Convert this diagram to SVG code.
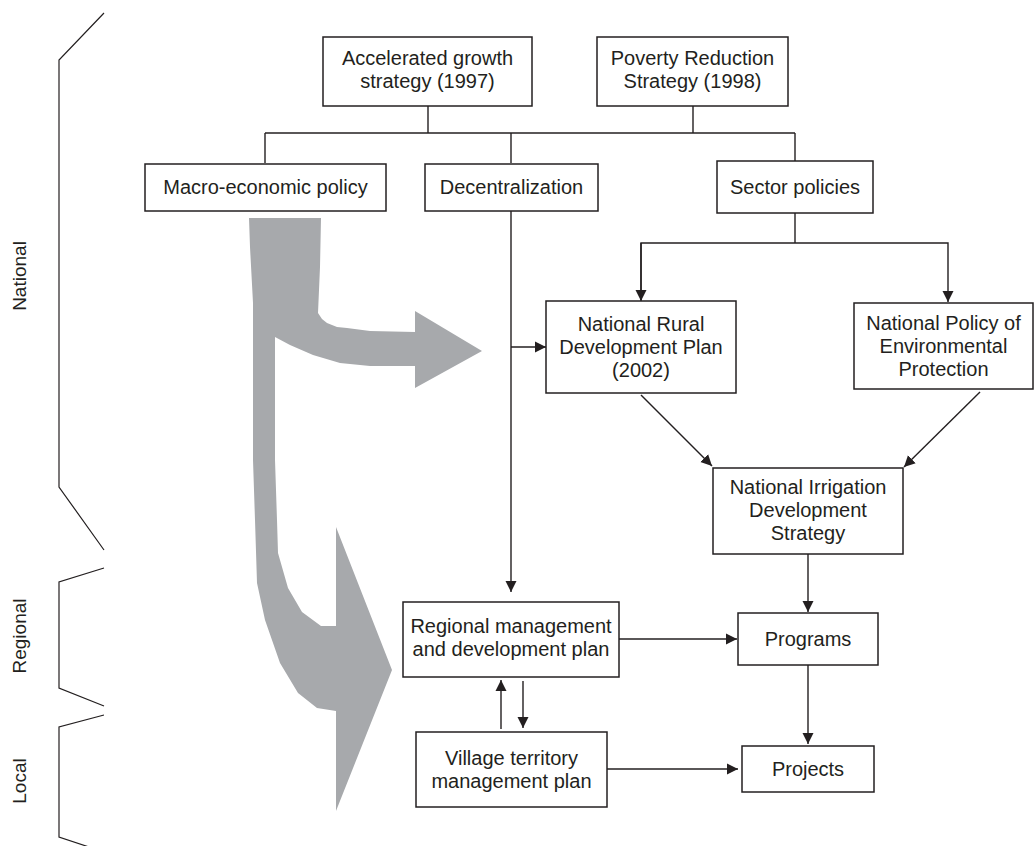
<svg xmlns="http://www.w3.org/2000/svg" width="1034" height="846" viewBox="0 0 1034 846">
<style>
.box{fill:#fff;stroke:#231f20;stroke-width:1.5}
.t{font-family:"Liberation Sans",Arial,sans-serif;font-size:20px;fill:#231f20;text-anchor:middle}
.lv{font-family:"Liberation Sans",Arial,sans-serif;font-size:19px;fill:#231f20;text-anchor:middle}
.ln{fill:none;stroke:#231f20;stroke-width:1.4}
.br{fill:none;stroke:#231f20;stroke-width:1.2}
.grey{fill:#a7a9ac}
</style>
<defs>
<marker id="ah" markerUnits="userSpaceOnUse" markerWidth="12" markerHeight="12" refX="11" refY="6" orient="auto">
<path d="M0,0.5 L11,6 L0,11.5 z" fill="#231f20"/>
</marker>
</defs>
<rect width="1034" height="846" fill="#fff"/>

<g id="levels">
<polyline class="br" points="104,13 59,60 59,487 104,550"/>
<polyline class="br" points="104,568 59,582 59,688 104,706"/>
<polyline class="br" points="104,715 59,727 59,837 104,852"/>
<text class="lv" transform="translate(26,276) rotate(-90)">National</text>
<text class="lv" transform="translate(26,636) rotate(-90)">Regional</text>
<text class="lv" transform="translate(26,781) rotate(-90)">Local</text>
</g>

<g id="grey-arrow">
<path class="grey" d="M249,218 L321,218 L320,267 L318,313 L322,319 L327,323 L337,327 L347,328 L370,331 L415,332 L415,311 L482,351 L415,388 L415,366 L370,366 L340,363 L313,355 L290,345 L275,337 L275,460 L277,520 L278,553 L288,588 L302,612 L321,626 L336,626 L336,527 L392,670 L336,811 L336,711 L317,708 L298,693 L280,663 L265,620 L257,583 L255,520 L253,460 L253,303 L250,247 Z"/>
</g>

<g id="connectors">
<line class="ln" x1="428" y1="106" x2="428" y2="133"/>
<line class="ln" x1="693" y1="106" x2="693" y2="133"/>
<line class="ln" x1="265" y1="133" x2="795" y2="133"/>
<line class="ln" x1="265" y1="133" x2="265" y2="163"/>
<line class="ln" x1="511" y1="133" x2="511" y2="163"/>
<line class="ln" x1="795" y1="133" x2="795" y2="161"/>
<line class="ln" x1="511" y1="211" x2="511" y2="592" marker-end="url(#ah)"/>
<line class="ln" x1="511" y1="347" x2="546" y2="347" marker-end="url(#ah)"/>
<polyline class="ln" points="795,213 795,243"/>
<polyline class="ln" points="641,300 641,243 948,243 948,302" marker-end="url(#ah)"/>
<line class="ln" x1="641" y1="243" x2="641" y2="301" marker-end="url(#ah)"/>
<line class="ln" x1="641" y1="395" x2="712" y2="466" marker-end="url(#ah)"/>
<line class="ln" x1="980" y1="392" x2="904" y2="467" marker-end="url(#ah)"/>
<line class="ln" x1="808" y1="554" x2="808" y2="612" marker-end="url(#ah)"/>
<line class="ln" x1="619" y1="639" x2="737" y2="639" marker-end="url(#ah)"/>
<line class="ln" x1="808" y1="665" x2="808" y2="744" marker-end="url(#ah)"/>
<line class="ln" x1="607" y1="769" x2="738" y2="769" marker-end="url(#ah)"/>
<line class="ln" x1="501" y1="729" x2="501" y2="680" marker-end="url(#ah)"/>
<line class="ln" x1="523" y1="681" x2="523" y2="728" marker-end="url(#ah)"/>
</g>

<g id="accelerated">
<rect class="box" x="323" y="37" width="209" height="69"/>
<text class="t" x="427.5" y="65">Accelerated growth</text>
<text class="t" x="427.5" y="88">strategy (1997)</text>
</g>
<g id="poverty">
<rect class="box" x="597" y="37" width="191" height="69"/>
<text class="t" x="692.5" y="65">Poverty Reduction</text>
<text class="t" x="692.5" y="88">Strategy (1998)</text>
</g>
<g id="macro">
<rect class="box" x="145" y="164" width="241" height="47"/>
<text class="t" x="265.5" y="194">Macro-economic policy</text>
</g>
<g id="decentralization">
<rect class="box" x="425" y="164" width="173" height="47"/>
<text class="t" x="511.5" y="194">Decentralization</text>
</g>
<g id="sector">
<rect class="box" x="717" y="161" width="156" height="52"/>
<text class="t" x="795" y="194">Sector policies</text>
</g>
<g id="nrdp">
<rect class="box" x="546" y="301" width="190" height="92"/>
<text class="t" x="641" y="331">National Rural</text>
<text class="t" x="641" y="354">Development Plan</text>
<text class="t" x="641" y="377">(2002)</text>
</g>
<g id="npep">
<rect class="box" x="854" y="303" width="179" height="86"/>
<text class="t" x="943.5" y="330">National Policy of</text>
<text class="t" x="943.5" y="353">Environmental</text>
<text class="t" x="943.5" y="376">Protection</text>
</g>
<g id="nids">
<rect class="box" x="713" y="468" width="190" height="86"/>
<text class="t" x="808" y="494">National Irrigation</text>
<text class="t" x="808" y="517">Development</text>
<text class="t" x="808" y="540">Strategy</text>
</g>
<g id="regional">
<rect class="box" x="403" y="602" width="216" height="75"/>
<text class="t" x="511" y="633">Regional management</text>
<text class="t" x="511" y="656">and development plan</text>
</g>
<g id="programs">
<rect class="box" x="738" y="613" width="140" height="52"/>
<text class="t" x="808" y="646">Programs</text>
</g>
<g id="village">
<rect class="box" x="416" y="732" width="191" height="75"/>
<text class="t" x="511.5" y="765">Village territory</text>
<text class="t" x="511.5" y="788">management plan</text>
</g>
<g id="projects">
<rect class="box" x="742" y="746" width="132" height="46"/>
<text class="t" x="808" y="776">Projects</text>
</g>
</svg>
